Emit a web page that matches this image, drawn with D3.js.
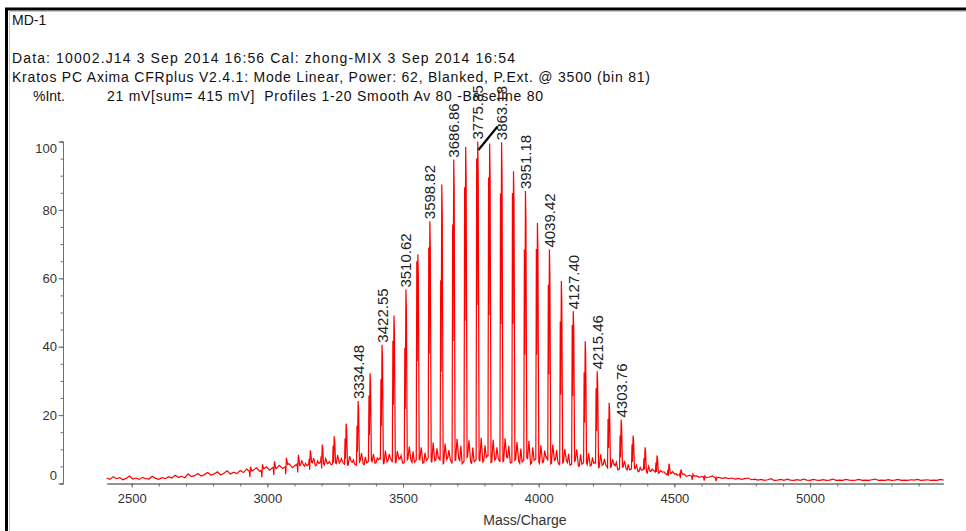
<!DOCTYPE html>
<html>
<head>
<meta charset="utf-8">
<script src="https://cdn.jsdelivr.net/npm/d3@7"></script>
<style>
  html, body { margin: 0; padding: 0; background: #fff; }
  svg { display: block; }
  text { font-family: "Liberation Sans", Arial, sans-serif; white-space: pre; }
</style>
</head>
<body>
<svg id="chart" width="966" height="531"></svg>
<script>
// ---- Header text -------------------------------------------------------
const sampleName = "MD-1";
const dataLine = "Data: 10002.J14 3 Sep 2014 16:56 Cal: zhong-MIX 3 Sep 2014 16:54";
const instrumentLine = "Kratos PC Axima CFRplus V2.4.1: Mode Linear, Power: 62, Blanked, P.Ext. @ 3500 (bin 81)";
const yTitle = "%Int.";
const acquisitionLine = "21 mV[sum= 415 mV]  Profiles 1-20 Smooth Av 80 -Baseline 80";
const xTitle = "Mass/Charge";

// ---- Axes --------------------------------------------------------------
const xDomain = [2408, 5491];
const yDomain = [0, 100];
const xMajorTicks = [2500, 3000, 3500, 4000, 4500, 5000];
const xMinorTicks = [2500, 2600, 2700, 2800, 2900, 3000, 3100, 3200, 3300, 3400, 3500, 3600,
                     3700, 3800, 3900, 4000, 4100, 4200, 4300, 4400, 4500, 4600, 4700, 4800,
                     4900, 5000, 5100, 5200, 5300, 5400];
const yMajorTicks = [0, 20, 40, 60, 80, 100];
const yMinorTicks = [0, 5, 10, 15, 20, 25, 30, 35, 40, 45, 50, 55, 60, 65, 70, 75, 80, 85, 90, 95, 100];

// ---- Main oligomer series (m/z, % intensity) ----------------------------
const peakMz = [2938.0, 2982.1, 3026.1, 3070.2, 3114.2, 3158.3, 3202.3, 3246.4, 3290.4, 3334.48,
                3378.5, 3422.55, 3466.6, 3510.62, 3554.7, 3598.82, 3642.8, 3686.86, 3730.9, 3775.35,
                3819.2, 3863.18, 3907.2, 3951.18, 3995.3, 4039.42, 4083.4, 4127.40, 4171.4, 4215.46,
                4259.6, 4303.76, 4347.8, 4391.9, 4436.0, 4480.1, 4524.1, 4568.2, 4612.2, 4656.3];
const peakInt = [4.9, 5.6, 6.5, 7.5, 8.4, 9.7, 11.4, 13.8, 17.5, 24.1,
                 32.2, 40.6, 49.1, 56.7, 67.0, 76.7, 87.4, 94.7, 98.4, 100.0,
                 99.4, 99.8, 91.3, 85.5, 76.2, 68.4, 59.2, 50.4, 41.6, 32.8,
                 23.6, 18.7, 14.0, 10.6, 8.2, 5.8, 4.1, 2.7, 2.2, 1.8];
// relative height of the partly resolved shoulder on the low-mass side of each peak
const shoulderRatio = [0.7, 0.6, 0.7, 0.65, 0.7, 0.75, 0.7, 0.8, 0.75, 0.7,
                       0.8, 0.75, 0.85, 0.7, 0.97, 0.9, 0.68, 0.8, 0.88, 0.95,
                       0.9, 0.85, 0.93, 0.8, 0.9, 0.85, 0.8, 0.92, 0.78, 0.85,
                       0.8, 0.75, 0.82, 0.7, 0.75, 0.7, 0.7, 0.7, 0.7, 0.7];

// ---- Satellite peaks between the oligomers --------------------------------
const satMz = [3127, 3171, 3215, 3259, 3303, 3347, 3391, 3435, 3479, 3523,
               3567, 3611, 3655, 3699, 3743, 3788, 3832, 3876, 3920, 3964,
               4008, 4052, 4096, 4140, 4184, 4228, 4272, 4316, 4360, 4405,
               4449, 4493, 4537];
const satInt = [6.6, 7.4, 7.3, 8.3, 8.0, 8.9, 8.6, 9.6, 9.5, 10.8,
                10.6, 12.0, 11.7, 13.1, 12.6, 13.4, 12.8, 13.2, 12.1, 12.5,
                11.2, 11.4, 10.1, 10.0, 8.8, 8.5, 7.1, 6.6, 5.4, 5.0,
                3.8, 3.5, 2.7];
const sat2Mz = [3141, 3185, 3229, 3273, 3317, 3361, 3405, 3449, 3493, 3537,
                3581, 3625, 3669, 3713, 3757, 3802, 3846, 3890, 3934, 3978,
                4022, 4066, 4110, 4154, 4198, 4242, 4286, 4330, 4374, 4418,
                4462, 4506];
const sat2Int = [5.9, 6.6, 6.4, 7.3, 6.9, 7.8, 7.5, 8.6, 8.2, 9.4,
                 9.0, 10.3, 9.8, 11.0, 10.5, 11.2, 10.6, 11.0, 10.2, 10.6,
                 9.6, 9.8, 8.7, 8.5, 7.6, 7.2, 6.2, 5.6, 4.7, 4.2,
                 3.4, 2.9];

// ---- Noise floor, sampled every 12 m/z from 2408 -------------------------
const floorStart = 2408;
const floorStep = 12;
const floorInt = [
  1.6, 1.2, 2.0, 1.4, 1.7, 1.1, 1.5, 2.2, 1.3, 1.6,
  1.2, 1.8, 1.4, 1.3, 2.1, 1.5, 1.2, 1.7, 1.4, 2.0,
  1.6, 2.4, 1.8, 2.1, 1.7, 2.8, 2.0, 2.3, 2.9, 2.2,
  2.6, 3.2, 2.4, 2.8, 3.4, 2.5, 3.0, 3.7, 2.8, 3.3,
  2.9, 3.8, 3.2, 4.2, 3.4, 3.9, 4.6, 3.6, 4.1, 4.9,
  3.9, 4.7, 4.3, 5.3, 4.4, 5.0, 5.8, 4.6, 5.4, 5.0,
  5.9, 4.8, 5.6, 6.3, 5.1, 5.7, 6.6, 5.2, 6.0, 5.5,
  6.2, 5.4, 6.8, 5.6, 5.3, 6.5, 5.8, 5.2, 6.9, 5.5,
  6.1, 7.2, 5.6, 6.4, 7.5, 5.8, 6.2, 7.6, 5.7, 6.3,
  7.4, 5.9, 6.6, 7.8, 5.6, 6.8, 7.2, 5.9, 6.5, 7.9,
  5.8, 6.9, 7.6, 5.5, 6.4, 8.0, 6.0, 6.7, 7.5, 5.6,
  6.8, 8.1, 5.9, 6.5, 7.7, 5.7, 6.9, 8.2, 6.1, 6.6,
  7.8, 5.8, 6.7, 8.0, 6.0, 6.4, 7.5, 5.6, 6.8, 7.7,
  5.5, 6.5, 7.4, 5.7, 6.2, 7.8, 5.4, 6.3, 7.2, 5.5,
  6.0, 7.0, 5.2, 5.8, 6.8, 5.0, 5.7, 6.5, 4.8, 5.5,
  6.2, 4.6, 5.2, 5.9, 4.3, 4.9, 5.5, 4.0, 4.6, 5.0,
  3.7, 4.2, 4.6, 3.4, 3.8, 4.1, 3.1, 3.5, 3.8, 2.9,
  3.2, 3.4, 2.6, 2.9, 3.1, 2.3, 2.6, 2.8, 2.1, 2.4,
  2.0, 2.3, 1.8, 2.1, 1.7, 1.9, 2.2, 1.6, 1.8, 1.5,
  1.7, 1.4, 1.6, 1.3, 1.5, 1.2, 1.4, 1.6, 1.1, 1.3,
  1.0, 1.2, 0.9, 1.1, 1.4, 0.9, 1.0, 1.2, 0.9, 1.3,
  1.0, 0.9, 1.1, 0.9, 1.3, 1.0, 0.9, 1.2, 1.0, 0.9,
  1.1, 0.9, 1.0, 1.3, 0.9, 1.0, 0.9, 1.2, 1.0, 0.9,
  1.0, 1.2, 0.9, 1.0, 0.9, 1.1, 1.3, 0.9, 1.0, 0.9,
  1.1, 0.9, 1.0, 1.2, 0.9, 1.0, 0.9, 1.1, 1.0, 1.2,
  0.9, 1.0, 1.1, 0.9, 1.0, 0.9, 1.2, 1.0
];

// ---- Annotated peaks ------------------------------------------------------
const labelMz = [3334.48, 3422.55, 3510.62, 3598.82, 3686.86, 3775.35,
                 3863.18, 3951.18, 4039.42, 4127.40, 4215.46, 4303.76];
// leader stroke near the apex of the base peak (m/z, %Int)
const leaderFrom = [3777.6, 97.5];
const leaderTo = [3847.6, 104.3];

// ---- Drawing -------------------------------------------------------------
const svg = d3.select("#chart");

// window frame
svg.append("path")
  .attr("d", "M6.5,531 V9 H966")
  .attr("fill", "none").attr("stroke", "#000").attr("stroke-width", 3);
svg.append("path")
  .attr("d", "M9.5,531 V11.5 H966")
  .attr("fill", "none").attr("stroke", "#c8c8c8").attr("stroke-width", 1);

// header lines
const header = svg.append("g").attr("fill", "#111").attr("font-size", 14);
header.append("text").attr("x", 12).attr("y", 25).text(sampleName);
header.append("text").attr("x", 12).attr("y", 63).attr("textLength", 503)
  .attr("lengthAdjust", "spacing").text(dataLine);
header.append("text").attr("x", 12).attr("y", 82).attr("textLength", 638)
  .attr("lengthAdjust", "spacing").text(instrumentLine);
header.append("text").attr("x", 33).attr("y", 101).text(yTitle);
header.append("text").attr("x", 107).attr("y", 101).attr("textLength", 436)
  .attr("lengthAdjust", "spacing").text(acquisitionLine);

const x = d3.scaleLinear().domain(xDomain).range([106.7, 943.3]);
const y = d3.scaleLinear().domain(yDomain).range([483.5, 141.5]);

// spectrum trace: noise floor with the peak spikes inserted
const floorPts = floorInt.map((v, i) => [floorStart + i * floorStep, v]);
function floorAt(m) {
  const t = (m - floorStart) / floorStep;
  const i = Math.max(0, Math.min(floorInt.length - 2, Math.floor(t)));
  const f = t - i;
  return floorInt[i] * (1 - f) + floorInt[i + 1] * f;
}
const pts = [];
const windows = [];
peakMz.forEach((m, i) => {
  const h = peakInt[i];
  const s = shoulderRatio[i] * h;
  pts.push([m - 6, floorAt(m - 6)], [m - 4, s], [m - 2.4, s * 0.55],
           [m, h], [m + 1.8, h * 0.9], [m + 5, floorAt(m + 5)]);
  windows.push([m - 6, m + 5]);
});
satMz.forEach((m, i) => {
  pts.push([m - 5, floorAt(m - 5)], [m, satInt[i]], [m + 6, floorAt(m + 6)]);
  windows.push([m - 5, m + 6]);
});
sat2Mz.forEach((m, i) => {
  pts.push([m - 4, floorAt(m - 4)], [m, sat2Int[i]], [m + 5, floorAt(m + 5)]);
  windows.push([m - 4, m + 5]);
});
floorPts.forEach(p => {
  if (!windows.some(w => p[0] > w[0] && p[0] < w[1])) pts.push(p);
});
pts.sort((a, b) => a[0] - b[0]);

svg.append("path")
  .datum(pts)
  .attr("fill", "none")
  .attr("stroke", "#ff0000")
  .attr("stroke-width", 1.2)
  .attr("stroke-linejoin", "miter")
  .attr("d", d3.line().x(d => x(d[0])).y(d => y(d[1])));

// x axis
const axisColor = "#6e6e6e";
const labelColor = "#333";
const gxMinor = svg.append("g").attr("transform", `translate(0,${y(0)})`)
  .call(d3.axisBottom(x).tickValues(xMinorTicks).tickSize(3).tickSizeOuter(0).tickFormat(""));
const gx = svg.append("g").attr("transform", `translate(0,${y(0)})`)
  .call(d3.axisBottom(x).tickValues(xMajorTicks).tickSize(4).tickSizeOuter(0).tickPadding(6)
    .tickFormat(d3.format("d")));
[gxMinor, gx].forEach(g => {
  g.selectAll("path, line").attr("stroke", axisColor);
  g.selectAll("text").attr("fill", labelColor).attr("font-size", 13)
    .attr("font-family", "Liberation Sans, Arial, sans-serif");
});

svg.append("text").attr("x", (x.range()[0] + x.range()[1]) / 2).attr("y", 524.5)
  .attr("text-anchor", "middle").attr("font-size", 14).attr("fill", labelColor).text(xTitle);

// y axis
const gyMinor = svg.append("g").attr("transform", "translate(63,0)")
  .call(d3.axisLeft(y).tickValues(yMinorTicks).tickSize(2.5).tickSizeOuter(3).tickFormat(""));
const gy = svg.append("g").attr("transform", "translate(63,0)")
  .call(d3.axisLeft(y).tickValues(yMajorTicks).tickSize(4.5).tickSizeOuter(3).tickPadding(1.5)
    .tickFormat(d3.format("d")));
[gyMinor, gy].forEach(g => {
  g.selectAll("path, line").attr("stroke", axisColor);
  g.selectAll("text").attr("fill", labelColor).attr("font-size", 13)
    .attr("font-family", "Liberation Sans, Arial, sans-serif");
});
// end labels are kept inside the axis span
gy.selectAll(".tick text").attr("dy", d => d === 100 ? "0.85em" : d === 0 ? "-0.3em" : "0.32em");

// peak annotations
const labels = svg.append("g").attr("font-size", 15).attr("fill", "#222");
labelMz.forEach(m => {
  const h = peakInt[peakMz.indexOf(m)];
  const px = x(m) + 5.5;
  const py = y(h) - 2;
  labels.append("text")
    .attr("transform", `translate(${px},${py}) rotate(-90)`)
    .text(m.toFixed(2));
});

svg.append("line")
  .attr("x1", x(leaderFrom[0])).attr("y1", y(leaderFrom[1]))
  .attr("x2", x(leaderTo[0])).attr("y2", y(leaderTo[1]))
  .attr("stroke", "#000").attr("stroke-width", 2.2);
</script>
</body>
</html>
